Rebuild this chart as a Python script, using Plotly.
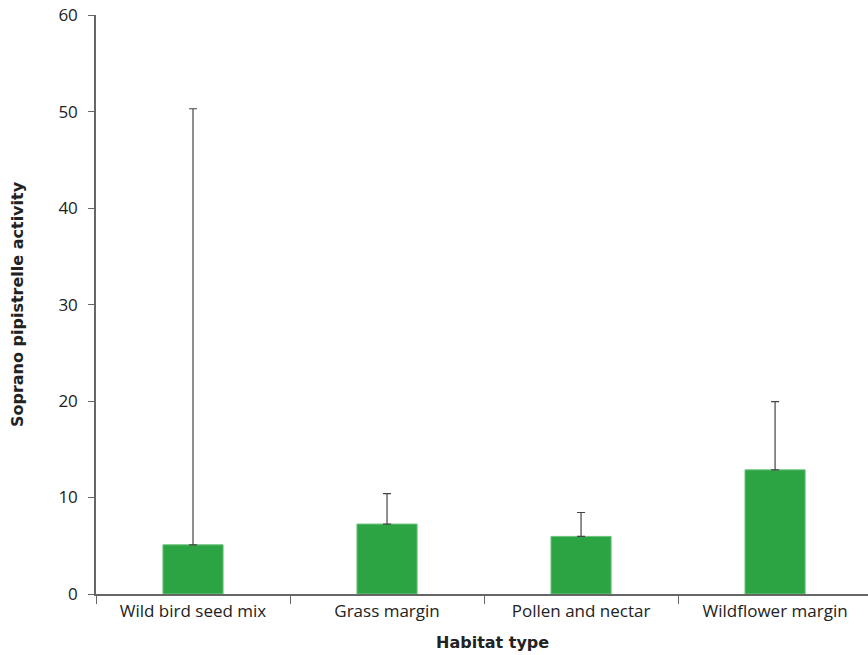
import plotly.graph_objects as go

categories = ["Wild bird seed mix", "Grass margin", "Pollen and nectar", "Wildflower margin"]
activity = [5.1, 7.25, 5.97, 12.87]
error_upper = [45.2, 3.15, 2.48, 7.08]
y_ticks = [0, 10, 20, 30, 40, 50, 60]

fig = go.Figure()
fig.add_trace(go.Bar(
    x=categories,
    y=activity,
    width=0.31,
    marker=dict(color="#2ca444", line=dict(color="#6cc47c", width=1)),
    error_y=dict(type="data", array=error_upper, arrayminus=[0]*4, symmetric=False,
                 color="#444444", thickness=1.2, width=4),
))

tick_font = "'Open Sans', Lato, sans-serif"
title_font = "'DejaVu Sans', sans-serif"
fig.update_layout(
    width=868, height=655,
    margin=dict(l=96, r=0, t=15, b=61),
    plot_bgcolor="white", paper_bgcolor="white",
    showlegend=False,
    font=dict(family=tick_font, color="#222222", size=17),
    annotations=[dict(
        text="<b>Habitat type</b>", xref="paper", yref="paper",
        x=0.514, y=-0.0846, xanchor="center", yanchor="middle", showarrow=False,
        font=dict(size=16, family=title_font, color="#222222"),
    )],
)
fig.update_xaxes(
    range=[-0.5, 3.479], automargin=False,
    showline=True, linecolor="#666666", linewidth=1.5,
    ticks="outside", tickson="boundaries", ticklen=8, tickcolor="#666666", tickwidth=1,
    ticklabelstandoff=1,
    showgrid=False, zeroline=False,
    tickfont=dict(size=17, family=tick_font, color="#222222"),
)
fig.update_yaxes(
    range=[0, 60.02], tickvals=y_ticks, automargin=False,
    ticklabeloverflow="allow",
    showline=True, linecolor="#666666", linewidth=1.5,
    ticks="outside", ticklen=6, tickcolor="#666666", tickwidth=1,
    ticklabelstandoff=7,
    showgrid=False, zeroline=False,
    tickfont=dict(size=17, family=tick_font, color="#222222"),
    title=dict(text="<b>Soprano pipistrelle activity</b>", font=dict(size=16, family=title_font, color="#222222"), standoff=31),
)

fig.write_html("out.html", config={"displayModeBar": False},
               post_script="document.body.style.margin='0';")
